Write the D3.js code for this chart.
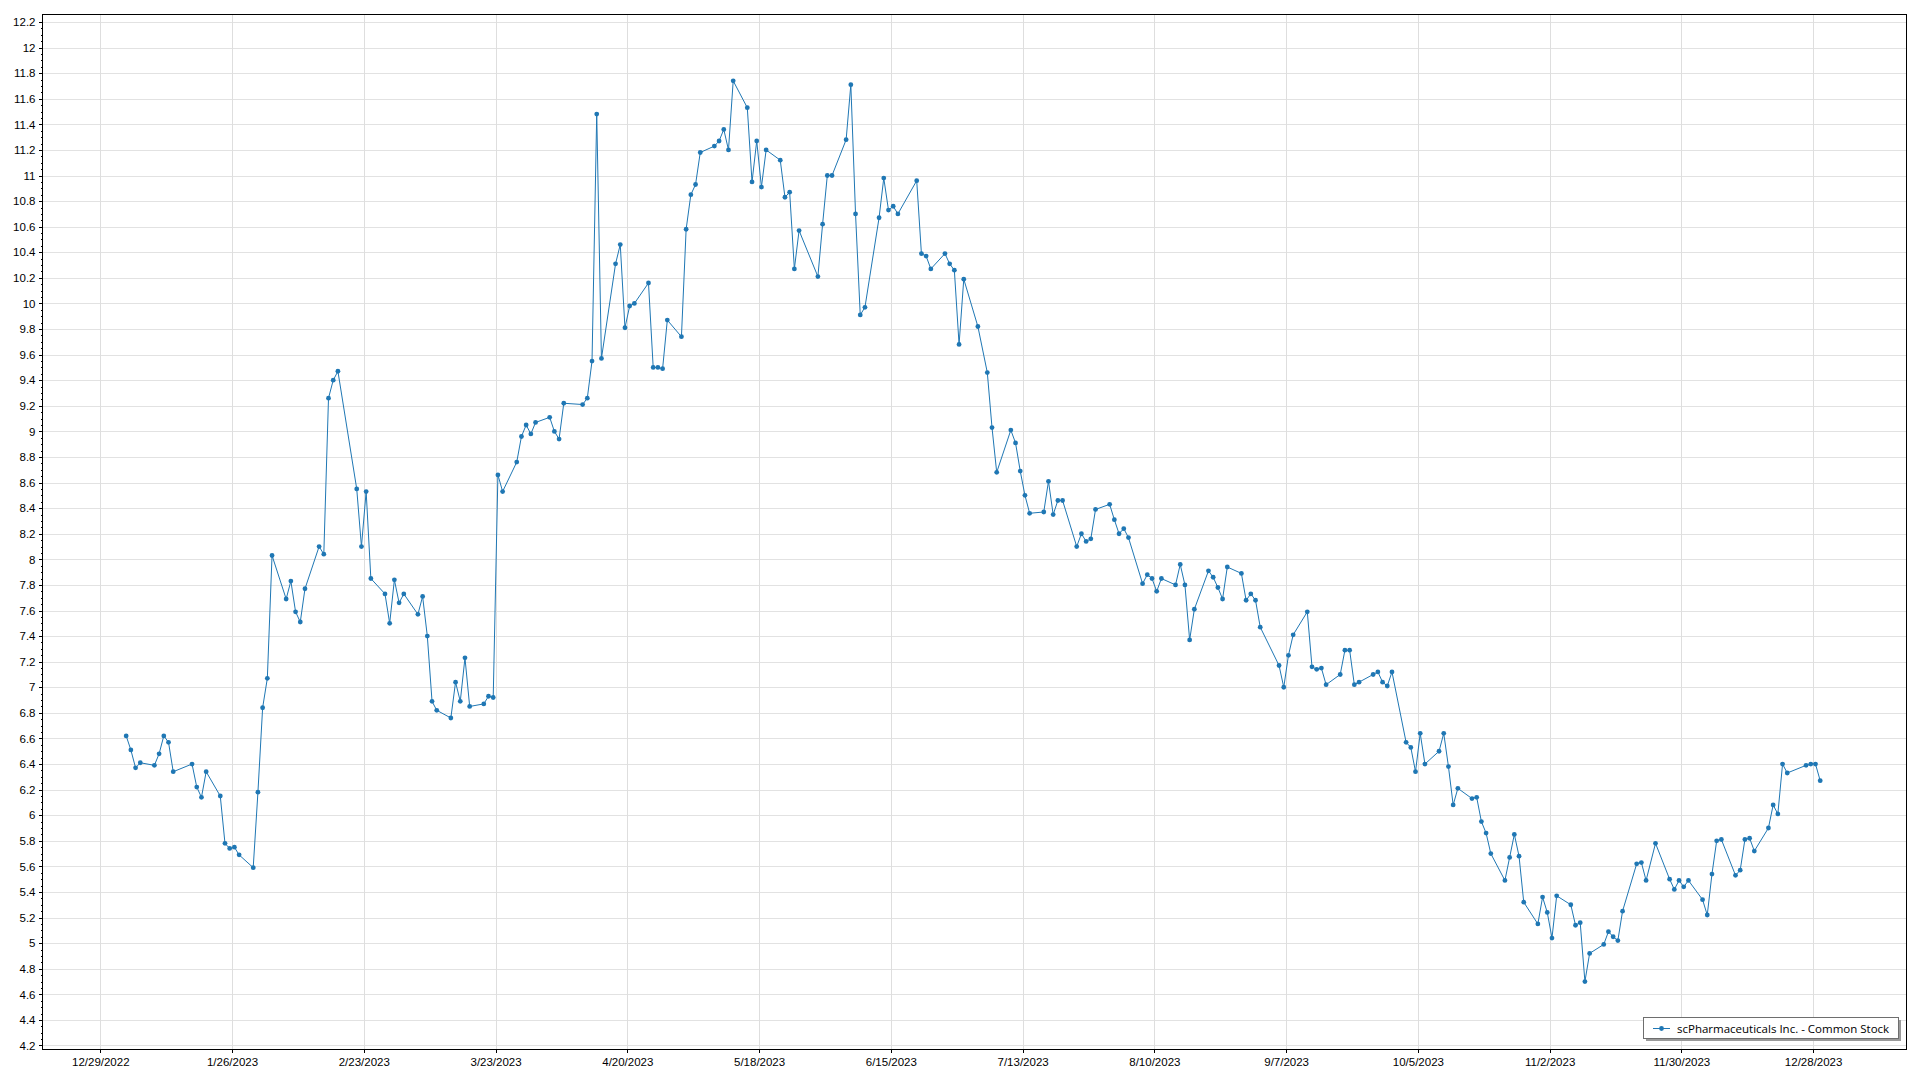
<!DOCTYPE html>
<html><head><meta charset="utf-8">
<script src="https://cdn.jsdelivr.net/npm/d3@7"></script>
<style>
body{margin:0;background:#fff;}
svg{display:block;font-family:"Segoe UI","Open Sans","Noto Sans",sans-serif;}
</style>
</head><body>
<svg id="chart" width="1920" height="1080"></svg>
<script>
const seriesName = "scPharmaceuticals Inc. - Common Stock";

const dates = [
"2023-01-03","2023-01-04","2023-01-05","2023-01-06","2023-01-09","2023-01-10","2023-01-11","2023-01-12","2023-01-13",
"2023-01-17","2023-01-18","2023-01-19","2023-01-20","2023-01-23","2023-01-24","2023-01-25","2023-01-26","2023-01-27",
"2023-01-30","2023-01-31","2023-02-01","2023-02-02","2023-02-03","2023-02-06","2023-02-07","2023-02-08","2023-02-09","2023-02-10",
"2023-02-13","2023-02-14","2023-02-15","2023-02-16","2023-02-17","2023-02-21","2023-02-22","2023-02-23","2023-02-24",
"2023-02-27","2023-02-28","2023-03-01","2023-03-02","2023-03-03","2023-03-06","2023-03-07","2023-03-08","2023-03-09","2023-03-10",
"2023-03-13","2023-03-14","2023-03-15","2023-03-16","2023-03-17","2023-03-20","2023-03-21","2023-03-22","2023-03-23","2023-03-24",
"2023-03-27","2023-03-28","2023-03-29","2023-03-30","2023-03-31","2023-04-03","2023-04-04","2023-04-05","2023-04-06",
"2023-04-10","2023-04-11","2023-04-12","2023-04-13","2023-04-14","2023-04-17","2023-04-18","2023-04-19","2023-04-20","2023-04-21",
"2023-04-24","2023-04-25","2023-04-26","2023-04-27","2023-04-28","2023-05-01","2023-05-02","2023-05-03","2023-05-04","2023-05-05",
"2023-05-08","2023-05-09","2023-05-10","2023-05-11","2023-05-12","2023-05-15","2023-05-16","2023-05-17","2023-05-18","2023-05-19",
"2023-05-22","2023-05-23","2023-05-24","2023-05-25","2023-05-26","2023-05-30","2023-05-31","2023-06-01","2023-06-02",
"2023-06-05","2023-06-06","2023-06-07","2023-06-08","2023-06-09","2023-06-12","2023-06-13","2023-06-14","2023-06-15","2023-06-16",
"2023-06-20","2023-06-21","2023-06-22","2023-06-23","2023-06-26","2023-06-27","2023-06-28","2023-06-29","2023-06-30",
"2023-07-03","2023-07-05","2023-07-06","2023-07-07","2023-07-10","2023-07-11","2023-07-12","2023-07-13","2023-07-14",
"2023-07-17","2023-07-18","2023-07-19","2023-07-20","2023-07-21","2023-07-24","2023-07-25","2023-07-26","2023-07-27","2023-07-28",
"2023-07-31","2023-08-01","2023-08-02","2023-08-03","2023-08-04","2023-08-07","2023-08-08","2023-08-09","2023-08-10","2023-08-11",
"2023-08-14","2023-08-15","2023-08-16","2023-08-17","2023-08-18","2023-08-21","2023-08-22","2023-08-23","2023-08-24","2023-08-25",
"2023-08-28","2023-08-29","2023-08-30","2023-08-31","2023-09-01","2023-09-05","2023-09-06","2023-09-07","2023-09-08",
"2023-09-11","2023-09-12","2023-09-13","2023-09-14","2023-09-15","2023-09-18","2023-09-19","2023-09-20","2023-09-21","2023-09-22",
"2023-09-25","2023-09-26","2023-09-27","2023-09-28","2023-09-29","2023-10-02","2023-10-03","2023-10-04","2023-10-05","2023-10-06",
"2023-10-09","2023-10-10","2023-10-11","2023-10-12","2023-10-13","2023-10-16","2023-10-17","2023-10-18","2023-10-19","2023-10-20",
"2023-10-23","2023-10-24","2023-10-25","2023-10-26","2023-10-27","2023-10-30","2023-10-31","2023-11-01","2023-11-02","2023-11-03",
"2023-11-06","2023-11-07","2023-11-08","2023-11-09","2023-11-10","2023-11-13","2023-11-14","2023-11-15","2023-11-16","2023-11-17",
"2023-11-20","2023-11-21","2023-11-22","2023-11-24","2023-11-27","2023-11-28","2023-11-29","2023-11-30","2023-12-01",
"2023-12-04","2023-12-05","2023-12-06","2023-12-07","2023-12-08","2023-12-11","2023-12-12","2023-12-13","2023-12-14","2023-12-15",
"2023-12-18","2023-12-19","2023-12-20","2023-12-21","2023-12-22","2023-12-26","2023-12-27","2023-12-28","2023-12-29"
];

const closes = [
6.62,6.51,6.37,6.41,6.39,6.48,6.62,6.57,6.34,
6.40,6.22,6.14,6.34,6.15,5.78,5.74,5.75,5.69,
5.59,6.18,6.84,7.07,8.03,7.69,7.83,7.59,7.51,7.77,
8.10,8.04,9.26,9.40,9.47,8.55,8.10,8.53,7.85,
7.73,7.50,7.84,7.66,7.73,7.57,7.71,7.40,6.89,6.82,
6.76,7.04,6.89,7.23,6.85,6.87,6.93,6.92,8.66,8.53,
8.76,8.96,9.05,8.98,9.07,9.11,9.00,8.94,9.22,
9.21,9.26,9.55,11.48,9.57,10.31,10.46,9.81,9.98,10.00,
10.16,9.50,9.50,9.49,9.87,9.74,10.58,10.85,10.93,11.18,
11.23,11.27,11.36,11.20,11.74,11.53,10.95,11.27,10.91,11.20,
11.12,10.83,10.87,10.27,10.57,10.21,10.62,11.00,11.00,
11.28,11.71,10.70,9.91,9.97,10.67,10.98,10.73,10.76,10.70,
10.96,10.39,10.37,10.27,10.39,10.31,10.26,9.68,10.19,
9.82,9.46,9.03,8.68,9.01,8.91,8.69,8.50,8.36,
8.37,8.61,8.35,8.46,8.46,8.10,8.20,8.14,8.16,8.39,
8.43,8.31,8.20,8.24,8.17,7.81,7.88,7.85,7.75,7.85,
7.80,7.96,7.80,7.37,7.61,7.91,7.86,7.78,7.69,7.94,
7.89,7.68,7.73,7.68,7.47,7.17,7.00,7.25,7.41,
7.59,7.16,7.14,7.15,7.02,7.10,7.29,7.29,7.02,7.04,
7.10,7.12,7.04,7.01,7.12,6.57,6.53,6.34,6.64,6.40,
6.50,6.64,6.38,6.08,6.21,6.13,6.14,5.95,5.86,5.70,
5.49,5.67,5.85,5.68,5.32,5.15,5.36,5.24,5.04,5.37,
5.30,5.14,5.16,4.70,4.92,4.99,5.09,5.05,5.02,5.25,
5.62,5.63,5.49,5.78,5.50,5.42,5.49,5.44,5.49,
5.34,5.22,5.54,5.80,5.81,5.53,5.57,5.81,5.82,5.72,
5.90,6.08,6.01,6.40,6.33,6.39,6.40,6.40,6.27
];

const xTickLabels = ["12/29/2022","1/26/2023","2/23/2023","3/23/2023","4/20/2023","5/18/2023","6/15/2023",
  "7/13/2023","8/10/2023","9/7/2023","10/5/2023","11/2/2023","11/30/2023","12/28/2023"];
const yTickValues = [4.2,4.4,4.6,4.8,5,5.2,5.4,5.6,5.8,6,6.2,6.4,6.6,6.8,7,7.2,7.4,7.6,7.8,8,
  8.2,8.4,8.6,8.8,9,9.2,9.4,9.6,9.8,10,10.2,10.4,10.6,10.8,11,11.2,11.4,11.6,11.8,12,12.2];

const color = "#1f77b4";
const plot = {left: 42.5, right: 1906.5, top: 14.5, bottom: 1049.5};

const parseDay = d3.timeParse("%Y-%m-%d");
const parseTick = d3.timeParse("%m/%d/%Y");
const data = dates.map((d, i) => ({date: d3.timeHour.offset(parseDay(d), 12), value: closes[i]}));
const xTicks = xTickLabels.map(s => parseTick(s));

const x = d3.scaleTime()
  .domain([new Date(2022, 11, 16, 17, 17), new Date(2024, 0, 16, 20, 10)])
  .range([plot.left, plot.right]);
const y = d3.scaleLinear()
  .domain([4.1687, 12.2586])
  .range([plot.bottom, plot.top]);

const svg = d3.select("#chart");
svg.append("rect").attr("width", 1920).attr("height", 1080).attr("fill", "#fff");

const grid = svg.append("g").attr("shape-rendering", "crispEdges");
grid.selectAll("line.h").data(yTickValues).join("line").attr("class", "h")
  .attr("x1", plot.left).attr("x2", plot.right)
  .attr("y1", d => Math.round(y(d)) + 0.5).attr("y2", d => Math.round(y(d)) + 0.5)
  .attr("stroke", "#e2e2e2");
grid.selectAll("line.v").data(xTicks).join("line").attr("class", "v")
  .attr("y1", plot.top).attr("y2", plot.bottom)
  .attr("x1", d => Math.round(x(d)) + 0.5).attr("x2", d => Math.round(x(d)) + 0.5)
  .attr("stroke", "#dedede");

// Minor y ticks
const minor = d3.range(Math.round(4.2 / 0.05), Math.round(12.2 / 0.05) + 1)
  .map(k => k * 0.05).filter(v => Math.abs(v * 5 - Math.round(v * 5)) > 1e-6);
svg.append("g").attr("shape-rendering", "crispEdges").selectAll("line").data(minor).join("line")
  .attr("x1", plot.left - 2).attr("x2", plot.left)
  .attr("y1", d => Math.round(y(d)) + 0.5).attr("y2", d => Math.round(y(d)) + 0.5)
  .attr("stroke", "#000");

const yAxis = svg.append("g").attr("transform", `translate(${plot.left},0)`)
  .call(d3.axisLeft(y).tickValues(yTickValues).tickSize(4).tickPadding(3).tickFormat(d => String(d)));
const xAxis = svg.append("g").attr("transform", `translate(0,${plot.bottom})`)
  .call(d3.axisBottom(x).tickValues(xTicks).tickSize(3).tickPadding(5).tickFormat((d, i) => xTickLabels[i]));
[yAxis, xAxis].forEach(a => {
  a.select(".domain").remove();
  a.selectAll("text").attr("font-size", "11.5px").attr("fill", "#000").attr("font-family", null);
  a.selectAll(".tick line").attr("stroke", "#000").attr("shape-rendering", "crispEdges");
});

svg.append("rect").attr("x", plot.left).attr("y", plot.top)
  .attr("width", plot.right - plot.left).attr("height", plot.bottom - plot.top)
  .attr("fill", "none").attr("stroke", "#000").attr("shape-rendering", "crispEdges");

const line = d3.line().x(d => x(d.date)).y(d => y(d.value));
svg.append("path").datum(data).attr("d", line)
  .attr("fill", "none").attr("stroke", color).attr("stroke-width", 1);
svg.append("g").selectAll("circle").data(data).join("circle")
  .attr("cx", d => x(d.date)).attr("cy", d => y(d.value)).attr("r", 2.4).attr("fill", color);

// Legend
const lg = svg.append("g").attr("transform", "translate(1643,1017)");
lg.append("rect").attr("x", 3).attr("y", 3).attr("width", 255).attr("height", 21).attr("fill", "#9a9a9a");
lg.append("rect").attr("x", 0.5).attr("y", 0.5).attr("width", 255).attr("height", 21)
  .attr("fill", "#fff").attr("stroke", "#6e6e6e").attr("shape-rendering", "crispEdges");
lg.append("line").attr("x1", 10).attr("x2", 27).attr("y1", 11.5).attr("y2", 11.5)
  .attr("stroke", color).attr("stroke-width", 1);
lg.append("circle").attr("cx", 18.5).attr("cy", 11.5).attr("r", 2.4).attr("fill", color);
lg.append("text").attr("x", 34).attr("y", 11.5).attr("dy", "0.35em")
  .attr("font-size", "11.5px").attr("fill", "#000").text(seriesName);
</script>
</body></html>
